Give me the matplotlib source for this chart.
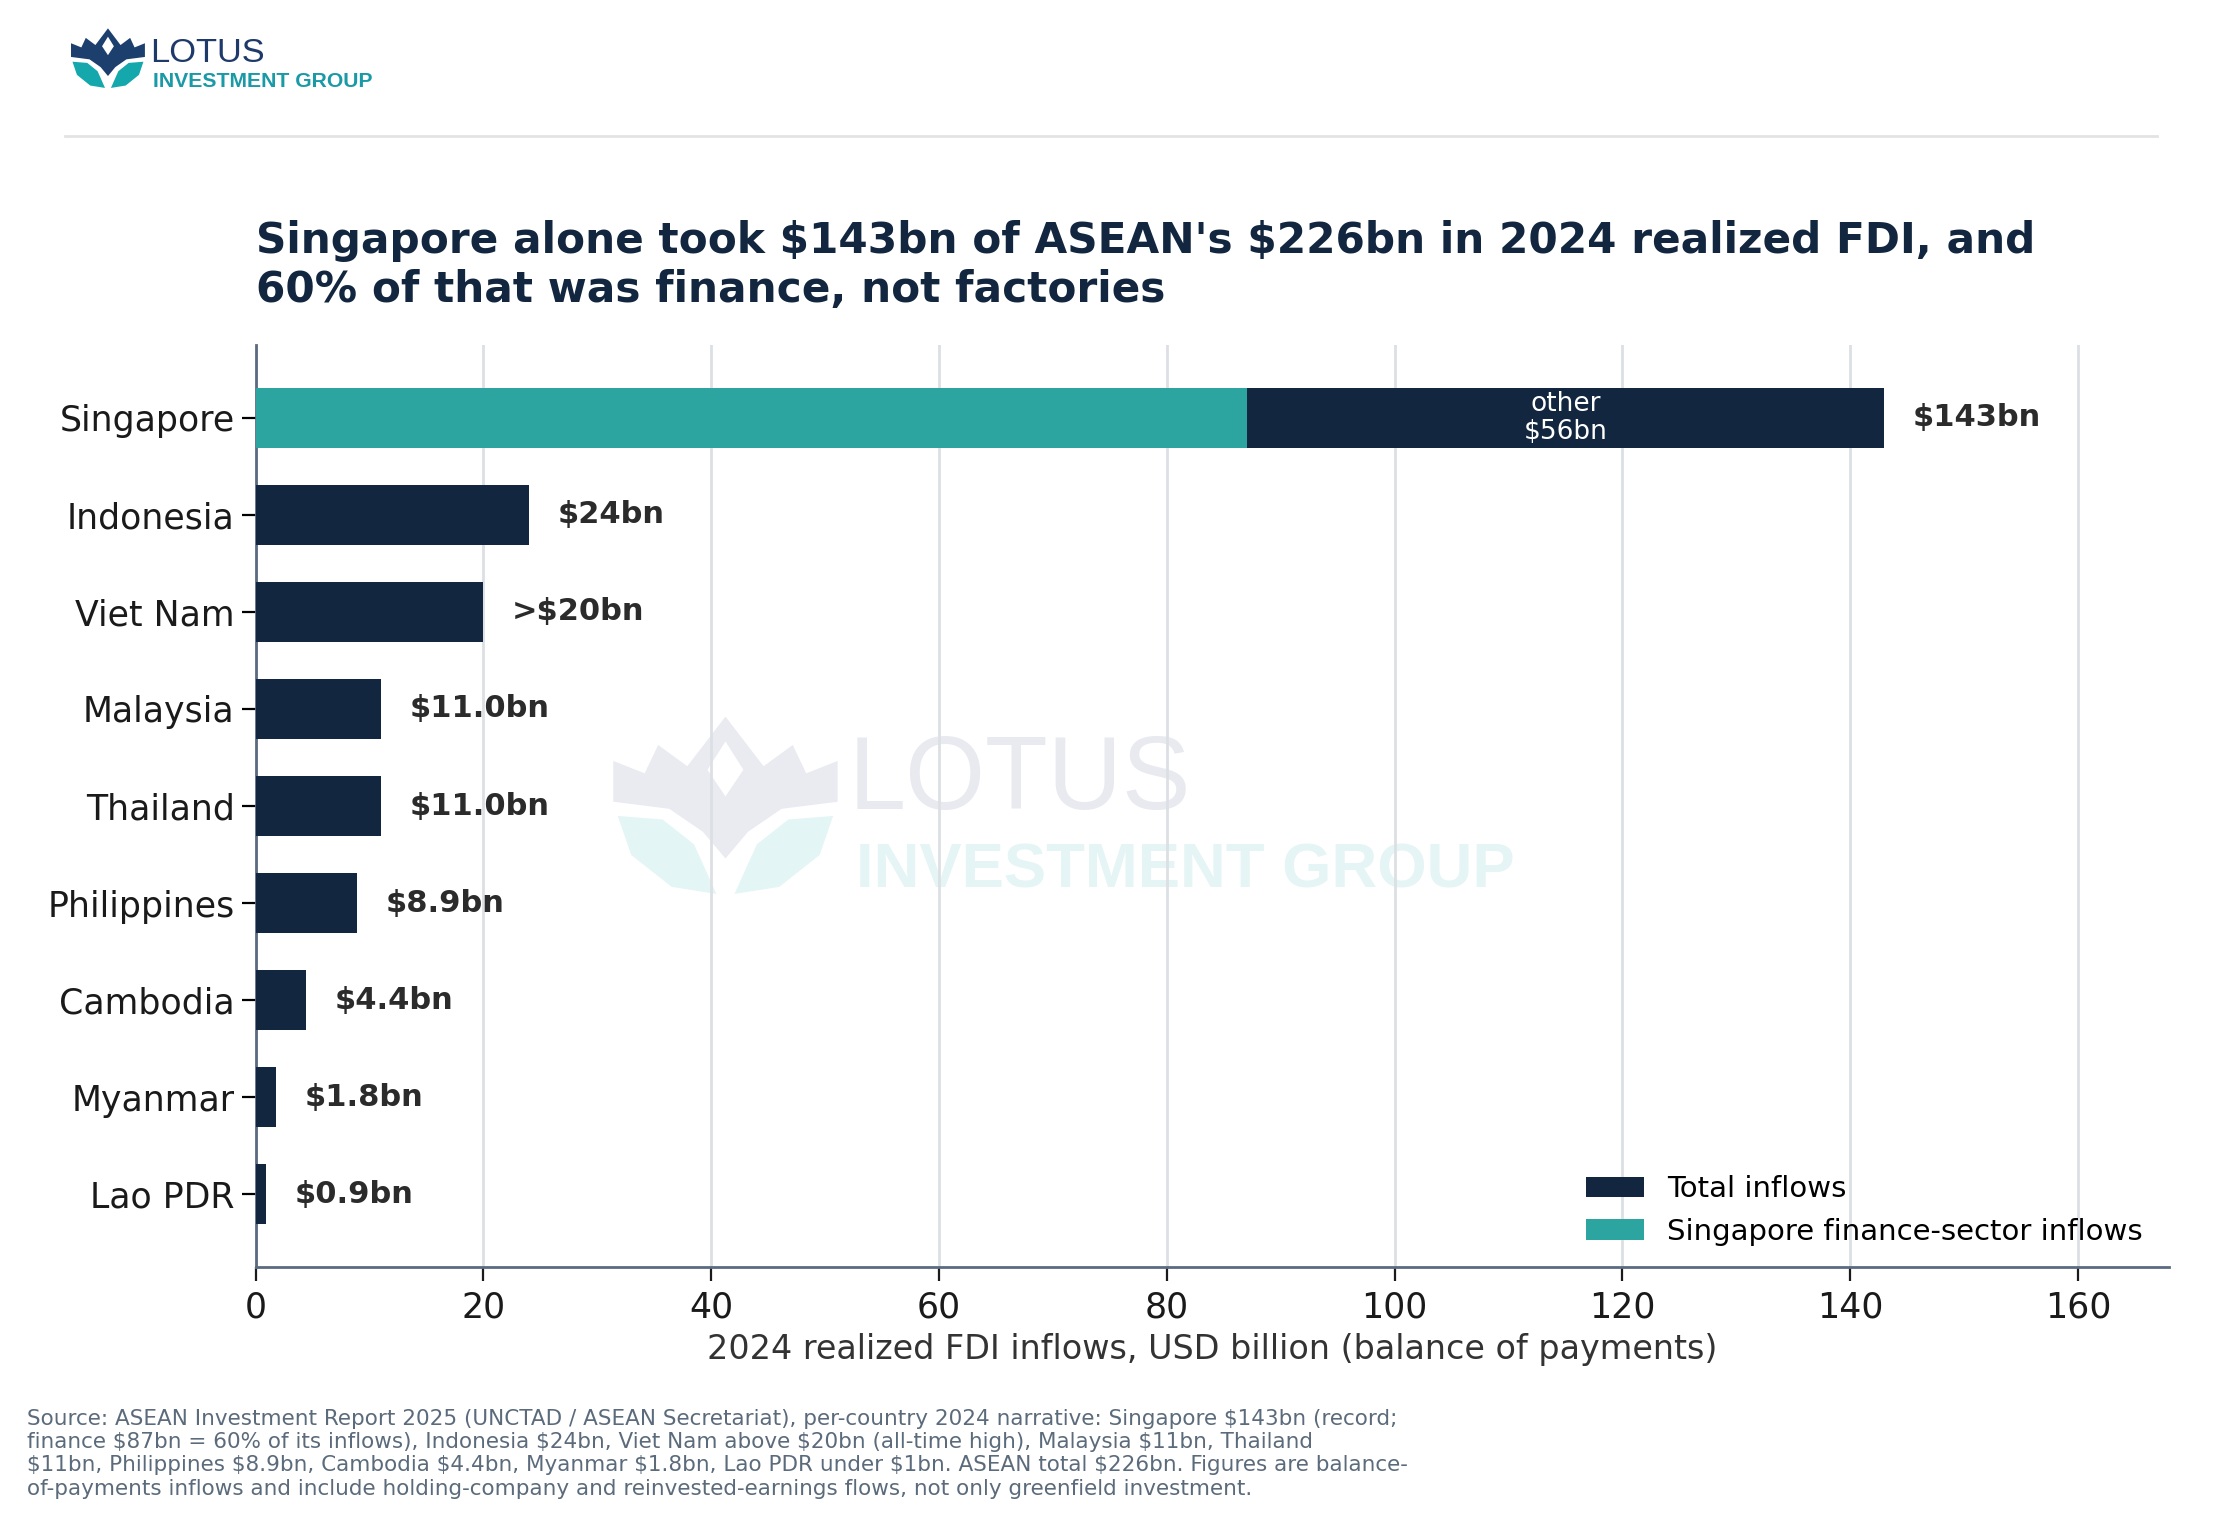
import matplotlib.pyplot as plt
from matplotlib.patches import Polygon

plt.rcParams['text.parse_math'] = False

# data
countries = ['Singapore', 'Indonesia', 'Viet Nam', 'Malaysia', 'Thailand',
             'Philippines', 'Cambodia', 'Myanmar', 'Lao PDR']
total_inflows = [143, 24, 20, 11.0, 11.0, 8.9, 4.4, 1.8, 0.9]
value_labels = ['$143bn', '$24bn', '>$20bn', '$11.0bn', '$11.0bn',
                '$8.9bn', '$4.4bn', '$1.8bn', '$0.9bn']
sg_finance = 87
sg_other = 56
xticks = [0, 20, 40, 60, 80, 100, 120, 140, 160]

NAVY = '#12263f'
TEAL = '#2ca4a0'

title = ("Singapore alone took $143bn of ASEAN's $226bn in 2024 realized FDI, and\n"
         "60% of that was finance, not factories")
source = ("Source: ASEAN Investment Report 2025 (UNCTAD / ASEAN Secretariat), per-country 2024 narrative: Singapore $143bn (record;\n"
          "finance $87bn = 60% of its inflows), Indonesia $24bn, Viet Nam above $20bn (all-time high), Malaysia $11bn, Thailand\n"
          "$11bn, Philippines $8.9bn, Cambodia $4.4bn, Myanmar $1.8bn, Lao PDR under $1bn. ASEAN total $226bn. Figures are balance-\n"
          "of-payments inflows and include holding-company and reinvested-earnings flows, not only greenfield investment.")


def draw_icon(ax, top_col, leaf_col, hole_col='white'):
    ax.set_xlim(0, 100)
    ax.set_ylim(0, 100)
    ax.axis('off')
    crown = [(0, 52), (0, 75), (14, 68), (20, 84), (33, 72), (50, 100), (67, 72),
             (80, 84), (86, 68), (100, 75), (100, 52), (75, 48), (60, 35),
             (50, 20), (40, 35), (25, 48)]
    ax.add_patch(Polygon(crown, closed=True, fc=top_col, ec='none'))
    ax.add_patch(Polygon([(50, 86), (42, 70), (50, 55), (58, 70)], closed=True, fc=hole_col, ec='none'))
    left_leaf = [(2, 44), (22, 42), (36, 28), (46, 0), (26, 4), (8, 22)]
    right_leaf = [(100 - x, y) for x, y in left_leaf]
    ax.add_patch(Polygon(left_leaf, closed=True, fc=leaf_col, ec='none'))
    ax.add_patch(Polygon(right_leaf, closed=True, fc=leaf_col, ec='none'))


fig = plt.figure(figsize=(11.13, 7.62), dpi=200)
fig.patch.set_facecolor('white')

ax = fig.add_axes([0.1148, 0.1685, 0.8597, 0.6052])

y = list(range(len(countries)))
ax.barh(y, total_inflows, height=0.62, color=NAVY, zorder=3, label='Total inflows')
ax.barh([0], [sg_finance], height=0.62, color=TEAL, zorder=4,
        label='Singapore finance-sector inflows')

for i, (v, lab) in enumerate(zip(total_inflows, value_labels)):
    ax.text(v + 2.5, i, lab, va='center', ha='left', fontsize=11,
            fontweight='bold', color='#2b2b2b', zorder=5)

ax.text(sg_finance + sg_other / 2, 0, 'other\n$%dbn' % sg_other, ha='center', va='center',
        fontsize=9.5, color='white', linespacing=1.1, zorder=5)

ax.set_xlim(0, 168)
ax.set_ylim(8.75, -0.75)
ax.set_yticks(y)
ax.set_yticklabels(countries, fontsize=12.5, color='#1a1a1a')
ax.set_xticks(xticks)
ax.tick_params(axis='x', labelsize=12.5, colors='#1a1a1a', length=5)
ax.tick_params(axis='y', length=5, pad=2.5)
ax.set_xlabel('2024 realized FDI inflows, USD billion (balance of payments)',
              fontsize=12, color='#333333', labelpad=3)

ax.grid(axis='x', color='#dcdfe4', linewidth=1.0)
ax.set_axisbelow(True)
for s in ['top', 'right']:
    ax.spines[s].set_visible(False)
for s in ['left', 'bottom']:
    ax.spines[s].set_color('#5a6a80')
    ax.spines[s].set_linewidth(1.0)

leg = ax.legend(loc='lower right', frameon=False, fontsize=10.5, handlelength=2.0,
                bbox_to_anchor=(1.0, -0.005))

# watermark
ax.text(0.310, 0.497, 'LOTUS', transform=ax.transAxes, fontsize=37, color='#e8eaf0',
        family='Liberation Sans', va='baseline', zorder=0.2)
ax.text(0.314, 0.412, 'INVESTMENT GROUP', transform=ax.transAxes, fontsize=22.8,
        fontweight='bold', color='#e5f4f4', family='Liberation Sans', va='baseline', zorder=0.2)
wm = fig.add_axes([0.2755, 0.4134, 0.1008, 0.1164], zorder=-1)
draw_icon(wm, '#e9ebf0', '#e4f5f5')
ax.set_zorder(1)
ax.patch.set_alpha(0)

# header logo
logo = fig.add_axes([0.0319, 0.9423, 0.0332, 0.0391])
draw_icon(logo, '#1d3f6e', '#14a8ad')
fig.text(0.0676, 0.9590, 'LOTUS', fontsize=12.4, color='#1d3a6b', family='Liberation Sans',
         va='baseline')
fig.text(0.0689, 0.9432, 'INVESTMENT GROUP', fontsize=7.6, color='#1a9aa6',
         family='Liberation Sans', fontweight='bold', va='baseline')
fig.add_artist(plt.Line2D([0.0293, 0.969], [0.9108, 0.9108], color='#e3e3e3', linewidth=1.0))

fig.text(0.1148, 0.8555, title, fontsize=15.2, fontweight='bold', color='#12263f',
         va='top', ha='left', linespacing=1.2)

fig.text(0.012, 0.0755, source, fontsize=7.75, color='#5b6b7b', va='top', ha='left',
         linespacing=1.2)

fig.savefig('out.png', dpi=200, facecolor='white')
